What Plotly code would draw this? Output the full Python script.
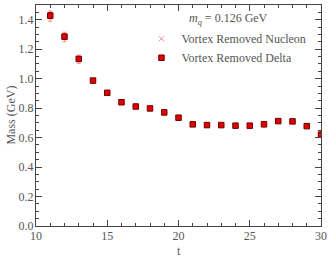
import plotly.graph_objects as go

t = [11, 12, 13, 14, 15, 16, 17, 18, 19, 20, 21, 22, 23, 24, 25, 26, 27, 28, 29, 30]
nucleon = [1.425, 1.283, 1.132, 0.988, 0.905, 0.840, 0.811, 0.798, 0.771, 0.736, 0.690, 0.686, 0.685, 0.682, 0.681, 0.689, 0.711, 0.709, 0.679, 0.620]
nucleon_err = [0.035, 0.032, 0.028, 0.012, 0.012, 0.012, 0.012, 0.010, 0.012, 0.014, 0.012, 0.012, 0.012, 0.010, 0.010, 0.010, 0.012, 0.012, 0.015, 0.020]
delta = [1.428, 1.285, 1.134, 0.987, 0.904, 0.840, 0.811, 0.798, 0.771, 0.735, 0.690, 0.685, 0.685, 0.681, 0.681, 0.690, 0.712, 0.710, 0.678, 0.620]
delta_err = [0.020, 0.018, 0.015, 0.008, 0.008, 0.008, 0.008, 0.007, 0.008, 0.010, 0.008, 0.008, 0.008, 0.007, 0.007, 0.007, 0.008, 0.008, 0.010, 0.015]

font = "Liberation Serif"
axcol = "#444444"
txtcol = "#555555"

fig = go.Figure()
fig.add_trace(go.Scatter(
    x=t, y=nucleon, mode="markers", name="Vortex Removed Nucleon",
    marker=dict(symbol="x-thin", size=5, color="rgba(255,90,90,0.8)", line=dict(width=1, color="rgba(255,90,90,0.8)")),
    error_y=dict(type="data", array=nucleon_err, color="rgba(255,90,90,0.7)", thickness=1, width=2),
    cliponaxis=True,
))
fig.add_trace(go.Scatter(
    x=t, y=delta, mode="markers", name="Vortex Removed Delta",
    marker=dict(symbol="square", size=5.5, color="#e00000", line=dict(width=1, color="#700000")),
    error_y=dict(type="data", array=delta_err, color="#cc0000", thickness=1, width=2),
    cliponaxis=True,
))

axis_common = dict(
    showline=True, linecolor=axcol, linewidth=1.2, mirror="ticks",
    ticks="inside", tickcolor=axcol, ticklen=6, tickwidth=1,
    showgrid=False, zeroline=False, automargin=False,
    tickfont=dict(family=font, size=12, color=txtcol),
)
fig.update_xaxes(range=[10, 30], dtick=5, tick0=10, ticklabelstandoff=-2,
                 minor=dict(dtick=1, ticks="inside", ticklen=3, tickcolor=axcol),
                 **axis_common)
fig.update_yaxes(range=[0, 1.5], dtick=0.2, tick0=0, tickformat=".1f", ticklabelstandoff=-1,
                 minor=dict(dtick=0.05, ticks="inside", ticklen=3, tickcolor=axcol),
                 **axis_common)

fig.add_annotation(x=0.674, y=0.937, xref="paper", yref="paper", xanchor="center", yanchor="middle",
                   text="<i>m</i><sub><i>q</i></sub> = 0.126 GeV", showarrow=False,
                   font=dict(family=font, size=12, color=txtcol))
fig.add_annotation(x=-0.091, y=0.5, xref="paper", yref="paper", xanchor="center", yanchor="middle",
                   text="Mass (GeV)", textangle=-90, showarrow=False,
                   font=dict(family=font, size=12, color=txtcol))
fig.add_annotation(x=0.5, y=-0.113, xref="paper", yref="paper", xanchor="center", yanchor="middle",
                   text="t", showarrow=False,
                   font=dict(family=font, size=12, color=txtcol))

fig.update_layout(
    width=332, height=264,
    margin=dict(l=36, r=11, t=5, b=38),
    paper_bgcolor="white", plot_bgcolor="white",
    legend=dict(x=0.37, y=0.913, xanchor="left", yanchor="top",
                font=dict(family=font, size=12, color=txtcol),
                bgcolor="rgba(0,0,0,0)", itemwidth=30, tracegroupgap=0),
    showlegend=True,
)

fig.write_html("out.html", config={"displayModeBar": False},
               post_script="document.body.style.margin='0';document.body.style.overflow='hidden';")
